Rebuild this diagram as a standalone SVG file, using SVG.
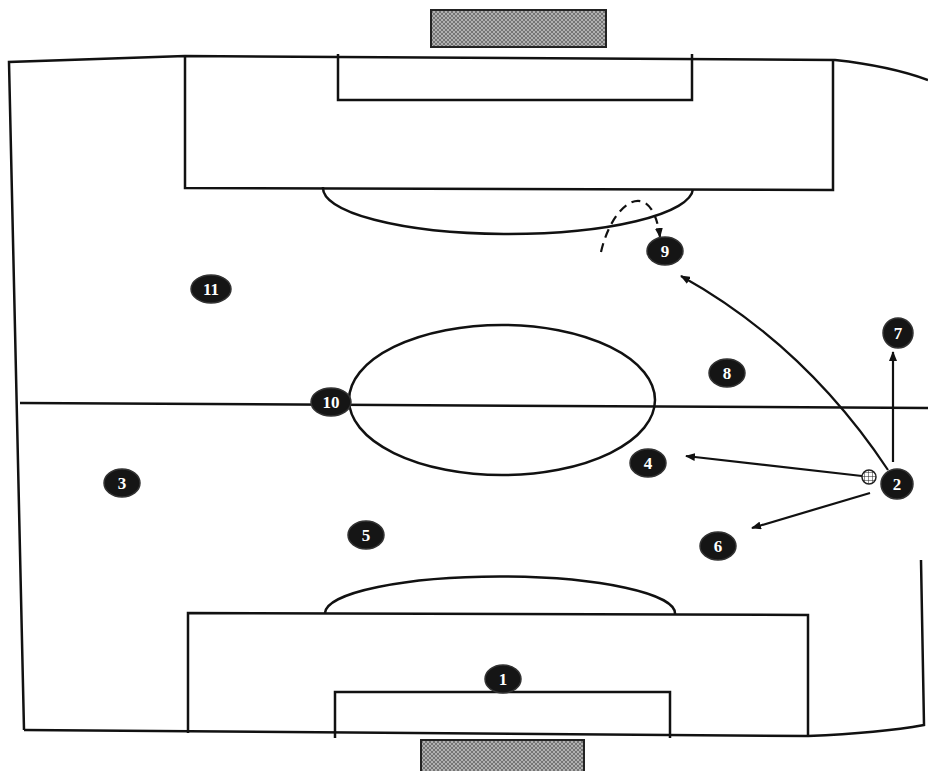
<svg xmlns="http://www.w3.org/2000/svg" width="928" height="771" viewBox="0 0 928 771">
<style>
.ln{fill:none;stroke:#111;stroke-width:2.5}
.pl{fill:#151515;stroke:#333;stroke-width:1.5}
.num{font-family:"Liberation Serif",serif;font-weight:bold;font-size:17px;fill:#fff;text-anchor:middle}
.ar{fill:none;stroke:#111;stroke-width:2.2;marker-end:url(#ah)}
.goal{fill:url(#hatch);stroke:#222;stroke-width:2}
</style>
<defs>
<pattern id="hatch" width="4" height="4" patternUnits="userSpaceOnUse">
<rect width="4" height="4" fill="#b0b0b0"/>
<path d="M0 0L4 4M4 0L0 4" stroke="#666" stroke-width="0.8"/>
</pattern>
<pattern id="ballp" width="4" height="4" patternUnits="userSpaceOnUse">
<rect width="4" height="4" fill="#fff"/>
<path d="M0 0H4M0 0V4" stroke="#222" stroke-width="1"/>
</pattern>
<marker id="ah" markerWidth="10" markerHeight="8" refX="9" refY="4" orient="auto" markerUnits="userSpaceOnUse">
<path d="M0 0L10 4L0 8z" fill="#111"/>
</marker>
</defs>
<rect width="928" height="771" fill="#fff"/>
<g id="pitch">
<rect class="goal" x="431" y="10" width="175" height="37"/>
<rect class="goal" x="421" y="740" width="163" height="35"/>
<path class="ln" d="M24 730 L9 62 L185 56 L835 60 Q890 66 928 80"/>
<path class="ln" d="M24 730 L808 736 Q880 733 924 725 L921 560"/>
<path class="ln" d="M185 56 V188 L833 190 V60"/>
<path class="ln" d="M338 54 V100 H692 V54"/>
<path class="ln" d="M323 187 A185 46 0 0 0 693 189"/>
<path class="ln" d="M20 403 L928 408"/>
<ellipse class="ln" cx="502" cy="400" rx="153" ry="75"/>
<path class="ln" d="M188 733 V613 L808 615 V736"/>
<path class="ln" d="M325 613 A175 37 0 0 1 675 614"/>
<path class="ln" d="M335 738 V692 H670 V738"/>
</g>
<g id="connectors">
<path class="ar" d="M888 470 Q805 345 681 276"/>
<path class="ar" d="M893 462 V352"/>
<path class="ar" d="M862 476 L686 456"/>
<path class="ar" d="M870 493 L752 528"/>
<path class="ar" d="M601 252 C613 200 652 176 660 237" stroke-dasharray="9 6"/>
</g>
<g id="ball"><circle cx="869" cy="477" r="7" fill="url(#ballp)" stroke="#222" stroke-width="1.5"/></g>
<g id="p1"><ellipse class="pl" cx="503" cy="679" rx="18" ry="14"/><text class="num" x="503" y="685">1</text></g>
<g id="p2"><ellipse class="pl" cx="897" cy="484" rx="16" ry="15"/><text class="num" x="897" y="490">2</text></g>
<g id="p3"><ellipse class="pl" cx="122" cy="483" rx="18" ry="14"/><text class="num" x="122" y="489">3</text></g>
<g id="p4"><ellipse class="pl" cx="648" cy="463" rx="18" ry="14"/><text class="num" x="648" y="469">4</text></g>
<g id="p5"><ellipse class="pl" cx="366" cy="535" rx="18" ry="14"/><text class="num" x="366" y="541">5</text></g>
<g id="p6"><ellipse class="pl" cx="718" cy="546" rx="18" ry="14"/><text class="num" x="718" y="552">6</text></g>
<g id="p7"><ellipse class="pl" cx="898" cy="333" rx="15" ry="15"/><text class="num" x="898" y="339">7</text></g>
<g id="p8"><ellipse class="pl" cx="727" cy="373" rx="18" ry="14"/><text class="num" x="727" y="379">8</text></g>
<g id="p9"><ellipse class="pl" cx="665" cy="251" rx="18" ry="14"/><text class="num" x="665" y="257">9</text></g>
<g id="p10"><ellipse class="pl" cx="331" cy="402" rx="20" ry="14"/><text class="num" x="331" y="408">10</text></g>
<g id="p11"><ellipse class="pl" cx="211" cy="289" rx="20" ry="14"/><text class="num" x="211" y="295">11</text></g>
</svg>
